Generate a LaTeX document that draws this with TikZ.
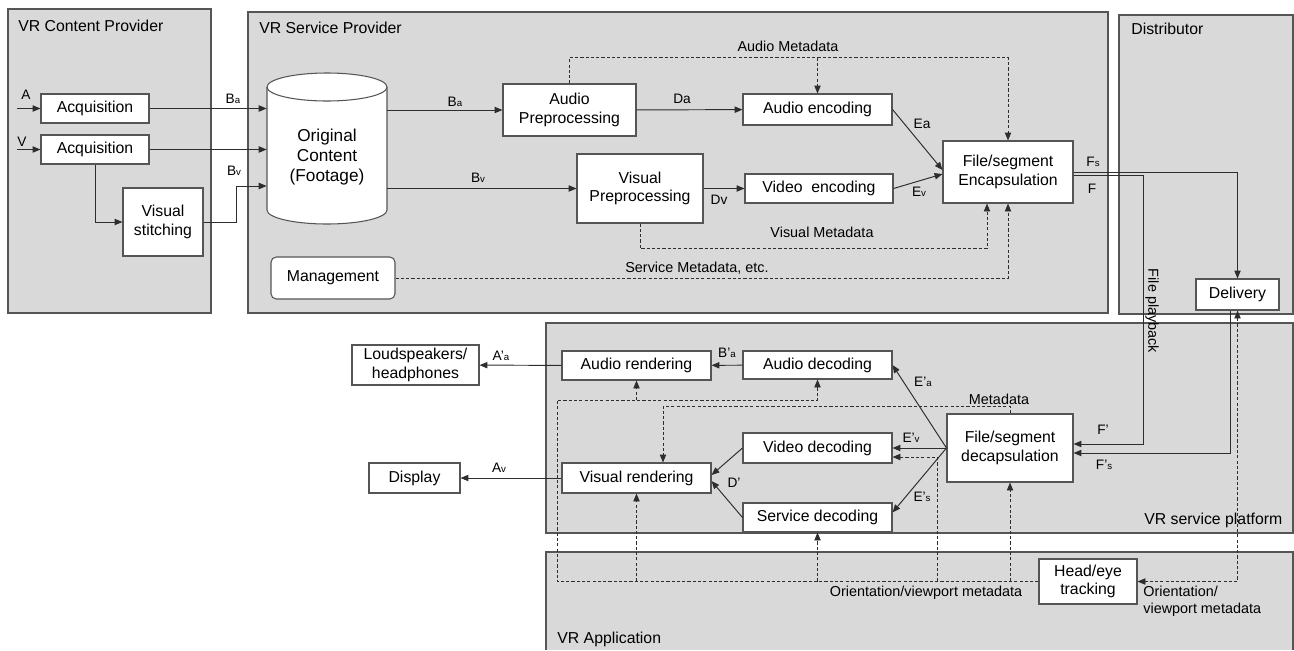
\documentclass[tikz,border=0pt]{standalone}
\usepackage{fontspec}
\setmainfont{Liberation Sans}
\usetikzlibrary{arrows.meta}
\definecolor{zonefill}{RGB}{217,217,217}
\definecolor{zoneedge}{RGB}{85,85,85}
\definecolor{wirecol}{RGB}{45,45,45}
\tikzset{>={Triangle[length=4.5pt,width=3.6pt]}, font=\fontsize{9}{10.5}\selectfont}
\tikzstyle{block} = [draw=zoneedge, fill=white, rectangle, inner sep=1pt, align=center, line width=0.6pt]
\tikzstyle{zone} = [draw=zoneedge, fill=zonefill, line width=0.7pt]
\tikzstyle{title} = [anchor=base west, inner sep=0pt]
\tikzstyle{sig} = [inner sep=0pt, font=\fontsize{7.8}{8}\selectfont]
\tikzstyle{metalbl} = [inner sep=0pt, font=\fontsize{8.2}{9.6}\selectfont]
\tikzstyle{wire} = [draw=wirecol, line width=0.55pt]
\tikzstyle{meta} = [draw=wirecol, line width=0.5pt, dash pattern=on 1.8pt off 1.2pt]
\tikzset{wh/.style 2 args={minimum width=#1*0.02cm, minimum height=#2*0.02cm}}
\newcommand{\sbs}[1]{{\fontsize{5.5}{5.5}\selectfont #1}}

\begin{document}
\begin{tikzpicture}[x=0.02cm, y=-0.02cm]
	\useasboundingbox (0,0) rectangle (1294,650);
	% zones
	\draw[zone] (8,9) rectangle (211,313);
	\draw[zone] (248,12) rectangle (1108,313);
	\draw[zone] (1119,15) rectangle (1293,314);
	\draw[zone] (546,323) rectangle (1293,533);
	\fill[zonefill] (546,552) rectangle (1293,650);
	\draw[zoneedge, line width=0.7pt] (546,650) |- (1293,552) -- (1293,650);
	\node[title] (tcp) at (18,31) {VR Content Provider};
	\node[title] (tsp) at (259,33) {VR Service Provider};
	\node[title] (tdi) at (1131,34) {Distributor};
	\node[title] (tpl) at (1144,524) {VR service platform};
	\node[title] (tap) at (557,643) {VR Application};

	% content provider
	\node[block, wh={108}{29}] (acqA) at (95,108.5) {Acquisition};
	\node[block, wh={108}{29}] (acqV) at (95,149.5) {Acquisition};
	\node[block, wh={80}{68}] (stitch) at (163,222) {Visual\\stitching};
	\coordinate (inA) at (17,108.5);
	\coordinate (inV) at (17,149.5);
	\coordinate (bvin) at (236,186);

	% service provider
	\draw[draw=zoneedge, fill=white, line width=0.6pt] (267,87) -- (267,210) arc[start angle=180, end angle=360, x radius=1.2cm, y radius=0.28cm] -- (387,87);
	\draw[draw=zoneedge, fill=white, line width=0.6pt] (327,87) ellipse [x radius=1.2cm, y radius=0.28cm];
	\node[wh={120}{130}, inner sep=0pt, align=center, font=\fontsize{9.8}{11.6}\selectfont] (footage) at (327,157) {Original\\Content\\(Footage)};
	\node[block, wh={124}{42}, rounded corners=3pt] (mgmt) at (333,278) {Management};
	\node[block, wh={133}{52}] (audpre) at (569.5,110) {Audio\\Preprocessing};
	\node[block, wh={126}{69}] (vispre) at (640,188.5) {Visual\\Preprocessing};
	\node[block, wh={149}{31}] (audenc) at (817.5,109.5) {Audio encoding};
	\node[block, wh={148}{29}] (videnc) at (819,188.5) {Video\ \ encoding};
	\node[block, wh={130}{62}] (encap) at (1008,172) {File/segment\\Encapsulation};
	\node[block, wh={83}{31}] (delivery) at (1237.5,294.5) {Delivery};

	% platform and application
	\node[block, wh={127}{40}] (speakers) at (415.5,365) {Loudspeakers/\\headphones};
	\node[block, wh={91}{30}] (display) at (414.5,478) {Display};
	\node[block, wh={149}{29}] (audrend) at (636.5,365.5) {Audio rendering};
	\node[block, wh={149}{30}] (visrend) at (636.5,478) {Visual rendering};
	\node[block, wh={149}{28}] (audec) at (817.5,365) {Audio decoding};
	\node[block, wh={149}{30}] (viddec) at (817.5,448) {Video decoding};
	\node[block, wh={149}{29}] (srvdec) at (817.5,517.5) {Service decoding};
	\node[block, wh={126}{68}] (decap) at (1010,448) {File/segment\\decapsulation};
	\node[block, wh={98}{45}] (track) at (1088,581.5) {Head/eye\\tracking};
	\coordinate (fplay) at (1143,444);
	\coordinate (orient) at (557,400);
	\coordinate (vidmeta) at (937,457);

	% solid connectors
	\draw[wire, ->] (inA) -- (acqA);
	\draw[wire, ->] (inV) -- (acqV);
	\draw[wire, ->] (acqA.east) -- (acqA.east -| footage.west);
	\draw[wire, ->] (acqV.east) -- (acqV.east -| footage.west);
	\draw[wire, ->] (acqV.south) |- (stitch.west);
	\draw[wire, ->] (stitch.east) -| (bvin) -- (bvin -| footage.west);
	\draw[wire, ->] (footage.east |- audpre.west) -- (audpre.west);
	\draw[wire, ->] (footage.east |- vispre.west) -- (vispre.west);
	\draw[wire, ->] (audpre) -- (audenc);
	\draw[wire, ->] (vispre) -- (videnc);
	\draw[wire, ->] (audenc.east) -- ([yshift=0.04cm]encap.west);
	\draw[wire, ->] (videnc.east) -- ([yshift=-0.04cm]encap.west);
	\draw[wire, ->] (encap.east) -| (delivery.north);
	\draw[wire, ->] ([yshift=-0.06cm]encap.east) -| (fplay) -- (fplay -| decap.east);
	\draw[wire, ->] ([xshift=-0.15cm]delivery.south) |- ([yshift=-0.1cm]decap.east);
	\draw[wire, ->] (decap.west) -- (audec.east);
	\draw[wire, ->] (decap.west) -- (viddec.east);
	\draw[wire, ->] (decap.west) -- ([yshift=0.1cm]srvdec.east);
	\draw[wire, ->] (audec) -- (audrend);
	\draw[wire, ->] (viddec.west) -- ([yshift=0.06cm]visrend.east);
	\draw[wire, ->] (srvdec.west) -- ([yshift=-0.06cm]visrend.east);
	\draw[wire, ->] (audrend) -- (speakers);
	\draw[wire, ->] (visrend) -- (display);

	% metadata connectors
	\draw[meta, ->] (audpre.north) -- ++(0,-26) coordinate (ameta) -| (encap.north);
	\draw[meta, ->] (audenc.north |- ameta) -- (audenc.north);
	\draw[meta, ->] (vispre.south) -- ++(0,25) -| ([xshift=-0.42cm]encap.south);
	\draw[meta, ->] (mgmt.east) -| (encap.south);
	\draw[meta, <->] (delivery.south) |- (track.east);
	\draw[meta, ->] (decap.north) -- ++(0,-7) -| ([xshift=0.53cm]visrend.north);
	\draw[meta, ->] (track.west) -| (orient) -| (audec.south);
	\draw[meta, ->] (audrend.south |- orient) -- (audrend.south);
	\draw[meta, ->] (visrend.south |- track.west) -- (visrend.south);
	\draw[meta, ->] (srvdec.south |- track.west) -- (srvdec.south);
	\draw[meta, ->] (vidmeta |- track.west) -- (vidmeta) -- (vidmeta -| viddec.east);
	\draw[meta, ->] (decap.south |- track.west) -- (decap.south);

	% labels
	\node[sig] (la) at (26,95) {A};
	\node[sig] (lv) at (22,142) {V};
	\node[sig] (lba1) at (233,99) {B\sbs{a}};
	\node[sig] (lbv1) at (234,171) {B\sbs{v}};
	\node[sig] (lba2) at (455,102) {B\sbs{a}};
	\node[sig] (lbv2) at (478,178) {B\sbs{v}};
	\node[sig] (lda) at (682,99) {Da};
	\node[sig] (ldv) at (719,200) {Dv};
	\node[sig] (lea) at (922,124) {Ea};
	\node[sig] (lev) at (919,192) {E\sbs{v}};
	\node[sig] (lfs) at (1093,162) {F\sbs{s}};
	\node[sig] (lf) at (1092,189) {F};
	\node[sig] (laa) at (501,356) {A’\sbs{a}};
	\node[sig] (lav) at (499,468) {A\sbs{v}};
	\node[sig] (lba3) at (727,353) {B’\sbs{a}};
	\node[sig] (lea2) at (923,382) {E’\sbs{a}};
	\node[sig] (lev2) at (911,438) {E’\sbs{v}};
	\node[sig] (les2) at (922,497) {E’\sbs{s}};
	\node[sig] (ldd) at (734,483) {D’};
	\node[sig] (lf2) at (1103,430) {F’};
	\node[sig] (lfs2) at (1104,465) {F’\sbs{s}};
	\node[metalbl] (lam) at (788,46) {Audio Metadata};
	\node[metalbl] (lvm) at (822,232) {Visual Metadata};
	\node[metalbl] (lsm) at (697,268) {Service Metadata, etc.};
	\node[metalbl] (lmd) at (999,399) {Metadata};
	\node[metalbl] (lom) at (926,593) {Orientation/viewport metadata};
	\node[metalbl, anchor=north west, align=left] (lom2) at (1143,586) {Orientation/\\viewport metadata};
	\node[metalbl, rotate=-90] (lfp) at (1152,311) {File playback};
\end{tikzpicture}
\end{document}
